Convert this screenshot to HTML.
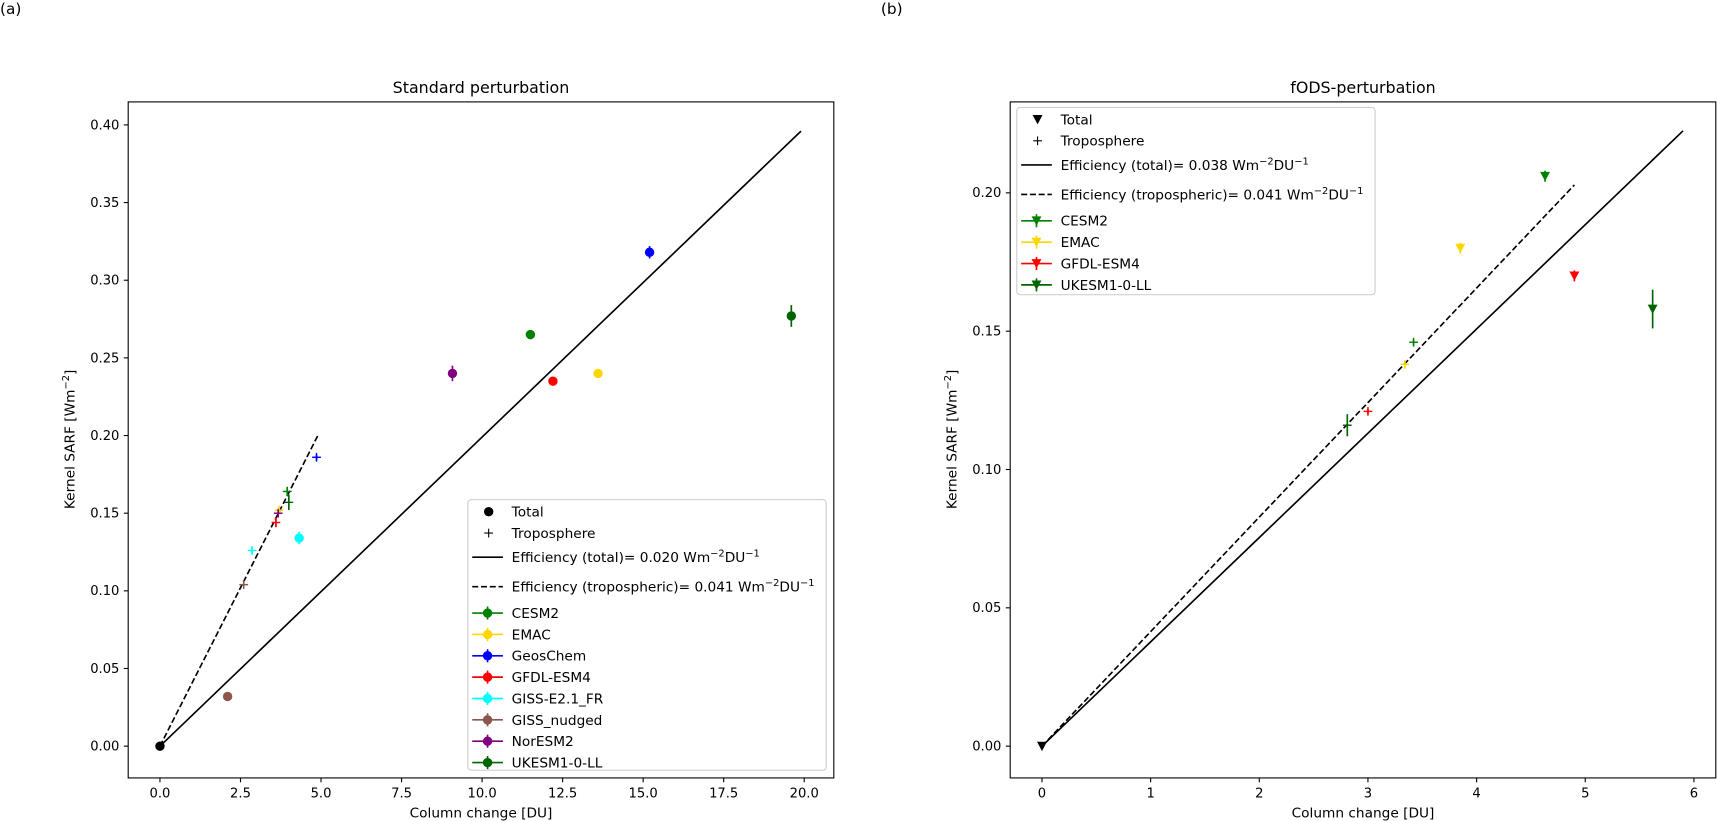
<!DOCTYPE html>
<html><head><meta charset="utf-8"><style>
body{margin:0;background:#fff;}
svg{display:block;font-family:"DejaVu Sans","Liberation Sans",sans-serif;}
</style></head><body>
<svg id="fig" width="1718" height="821" viewBox="0 0 1568 749.3">
<text x="0" y="13" font-size="14">(a)</text>
<text x="804" y="13" font-size="14">(b)</text>
</svg>
<script>
// ---- Panel A data ----
const modelsA = ["CESM2","EMAC","GeosChem","GFDL-ESM4","GISS-E2.1_FR","GISS_nudged","NorESM2","UKESM1-0-LL"];
const colorsA = ["#008000","#ffd700","#0000ff","#ff0000","#00ffff","#8c564b","#800080","#006400"];
const totalXA = [11.5,13.6,15.2,12.2,4.32,2.1,9.08,19.6];
const totalYA = [0.265,0.240,0.318,0.235,0.134,0.032,0.240,0.277];
const totalErrA = [0.003,0.002,0.004,0.002,0.004,0.002,0.005,0.007];
const tropXA = [3.95,3.7,4.86,3.6,2.86,2.6,3.67,4.0];
const tropYA = [0.164,0.152,0.186,0.144,0.126,0.104,0.150,0.157];
const tropErrA = [0.003,0.002,0.002,0.003,0.002,0.001,0.002,0.005];
const effTotalA = 0.0199, effTotalMaxA = 19.9;
const effTropA = 0.0408, effTropMaxA = 4.9;
const xTicksA = [0.0,2.5,5.0,7.5,10.0,12.5,15.0,17.5,20.0];
const yTicksA = [0.00,0.05,0.10,0.15,0.20,0.25,0.30,0.35,0.40];
// ---- Panel B data ----
const modelsB = ["CESM2","EMAC","GFDL-ESM4","UKESM1-0-LL"];
const colorsB = ["#008000","#ffd700","#ff0000","#006400"];
const totalXB = [4.63,3.85,4.9,5.62];
const totalYB = [0.206,0.180,0.170,0.158];
const totalErrB = [0.002,0.002,0.002,0.007];
const tropXB = [3.42,3.34,3.0,2.81];
const tropYB = [0.146,0.138,0.121,0.116];
const tropErrB = [0.001,0.001,0.001,0.004];
const effTotalB = 0.0377, effTotalMaxB = 5.9;
const effTropB = 0.0414, effTropMaxB = 4.9;
const xTicksB = [0,1,2,3,4,5,6];
const yTicksB = [0.00,0.05,0.10,0.15,0.20];

const NS="http://www.w3.org/2000/svg";
const svg=document.getElementById('fig');
function mk(tag,attrs,parent,text){const e=document.createElementNS(NS,tag);for(const k in attrs)e.setAttribute(k,attrs[k]);if(text!==undefined)e.textContent=text;(parent||svg).appendChild(e);return e;}

function panel(cfg){
  const g=mk('g',{});
  
  
  const X=v=>cfg.x0px+(v-0)*cfg.xs, Y=v=>cfg.y0px-v*cfg.ys;
  const fr=mk('rect',{x:cfg.L,y:93,width:644,height:617,fill:'none',stroke:'#000','stroke-width':1},g);
  
  
  cfg.xt.forEach(t=>{
    const px=X(t);
    mk('line',{x1:px,y1:710,x2:px,y2:714,stroke:'#000'},g);
    const tl=mk('text',{x:px,y:728,'font-size':12,'text-anchor':'middle'},g,cfg.xfmt(t));
    
    
  });
  cfg.yt.forEach(t=>{
    const py=Y(t);
    mk('line',{x1:cfg.L-4,y1:py,x2:cfg.L,y2:py,stroke:'#000'},g);
    const tl=mk('text',{x:cfg.L-8,y:py+4,'font-size':12,'text-anchor':'end'},g,t.toFixed(2));
    
    
  });
  const xt=mk('text',{x:cfg.L+322,y:746,'font-size':12.5,'text-anchor':'middle'},g,'Column change [DU]');
  
  
  const yt=mk('text',{transform:`translate(${cfg.L-49},401) rotate(-90)`,'font-size':12.5,'text-anchor':'middle'},g);
  
  
  yt.innerHTML='Kernel SARF  [Wm<tspan dy="-5" font-size="9">−2</tspan><tspan dy="5">]</tspan>';
  const ti=mk('text',{x:cfg.L+322,y:85,'font-size':14.5,'text-anchor':'middle'},g,cfg.title);
  
  
  const l1=mk('line',{x1:X(0),y1:Y(0),x2:X(cfg.effTotMax),y2:Y(cfg.effTot*cfg.effTotMax),stroke:'#000','stroke-width':1.5},g);
  
  
  const l2=mk('line',{x1:X(0),y1:Y(0),x2:X(cfg.effTropMax),y2:Y(cfg.effTrop*cfg.effTropMax),stroke:'#000','stroke-width':1.5,'stroke-dasharray':'5.5,2.5'},g);
  
  
  const o=cfg.marker(g,X(0),Y(0),'#000');
  
  
  cfg.models.forEach((m,i)=>{
    const c=cfg.colors[i];
    const tg=mk('g',{},g);
    
    
    const tx=X(cfg.tx[i]),ty=Y(cfg.ty[i]);
    mk('line',{x1:tx,y1:Y(cfg.ty[i]+cfg.te[i]),x2:tx,y2:Y(cfg.ty[i]-cfg.te[i]),stroke:c,'stroke-width':1.5},tg);
    mk('line',{x1:tx-4,y1:ty,x2:tx+4,y2:ty,stroke:c,'stroke-width':1.3},tg);
    mk('line',{x1:tx,y1:ty-4,x2:tx,y2:ty+4,stroke:c,'stroke-width':1.3},tg);
    const pg=mk('g',{},g);
    
    
    const px=X(cfg.tox[i]),py=Y(cfg.toy[i]);
    mk('line',{x1:px,y1:Y(cfg.toy[i]+cfg.toe[i]),x2:px,y2:Y(cfg.toy[i]-cfg.toe[i]),stroke:c,'stroke-width':1.5},pg);
    cfg.marker(pg,px,py,c);
  });
  const lg=mk('g',{},g);
  
  
  mk('rect',{x:cfg.lx,y:cfg.ly,width:327,height:cfg.lh,rx:3,fill:'#fff','fill-opacity':0.8,stroke:'#ccc'},lg);
  let y=cfg.ly+11;
  const hx=cfg.lx+14, tx0=cfg.lx+40;
  function entry(draw,label,step,html){
    const eg=mk('g',{},lg);
    
    
    draw(eg,y);
    const t=mk('text',{x:tx0,y:y+4.5,'font-size':12.5},eg);
    if(html)t.innerHTML=label;else t.textContent=label;
    y+=step;
  }
  entry((eg,yy)=>cfg.marker(eg,hx+5,yy,'#000'),'Total',19.5);
  entry((eg,yy)=>{mk('line',{x1:hx+1,y1:yy,x2:hx+9,y2:yy,stroke:'#000'},eg);mk('line',{x1:hx+5,y1:yy-4,x2:hx+5,y2:yy+4,stroke:'#000'},eg);},'Troposphere',22);
  entry((eg,yy)=>mk('line',{x1:hx-10,y1:yy,x2:hx+18,y2:yy,stroke:'#000','stroke-width':1.5},eg),
    'Efficiency (total)= '+cfg.effTotLbl+' Wm<tspan dy="-5" font-size="9">−2</tspan><tspan dy="5">DU</tspan><tspan dy="-5" font-size="9">−1</tspan>',27,true);
  entry((eg,yy)=>mk('line',{x1:hx-10,y1:yy,x2:hx+18,y2:yy,stroke:'#000','stroke-width':1.5,'stroke-dasharray':'5.5,2.5'},eg),
    'Efficiency (tropospheric)= '+cfg.effTropLbl+' Wm<tspan dy="-5" font-size="9">−2</tspan><tspan dy="5">DU</tspan><tspan dy="-5" font-size="9">−1</tspan>',24,true);
  cfg.models.forEach((m,i)=>entry((eg,yy)=>{
    const c=cfg.colors[i];
    mk('line',{x1:hx-10,y1:yy,x2:hx+18,y2:yy,stroke:c,'stroke-width':1.5},eg);
    mk('line',{x1:hx+4,y1:yy-6,x2:hx+4,y2:yy+6,stroke:c,'stroke-width':1.5},eg);
    cfg.marker(eg,hx+4,yy,c);
  },m,19.5));
}
const circ=(p,x,y,c)=>mk('circle',{cx:x,cy:y,r:4.3,fill:c},p);
const tri=(p,x,y,c)=>mk('polygon',{points:`${x-4.5},${y-4} ${x+4.5},${y-4} ${x},${y+4.5}`,fill:c},p);

panel({name:'panel-a-standard-perturbation',L:117,x0px:146,xs:29.4,y0px:681,ys:1417.5,xt:xTicksA,yt:yTicksA,xfmt:t=>t.toFixed(1),
  title:'Standard perturbation',models:modelsA,colors:colorsA,tx:tropXA,ty:tropYA,te:tropErrA,tox:totalXA,toy:totalYA,toe:totalErrA,
  effTot:effTotalA,effTotMax:effTotalMaxA,effTrop:effTropA,effTropMax:effTropMaxA,effTotLbl:'0.020',effTropLbl:'0.041',
  marker:circ,lx:427,ly:456,lh:247});
panel({name:'panel-b-fods-perturbation',L:922,x0px:951,xs:99.17,y0px:681,ys:2525,xt:xTicksB,yt:yTicksB,xfmt:t=>String(t),
  title:'fODS-perturbation',models:modelsB,colors:colorsB,tx:tropXB,ty:tropYB,te:tropErrB,tox:totalXB,toy:totalYB,toe:totalErrB,
  effTot:effTotalB,effTotMax:effTotalMaxB,effTrop:effTropB,effTropMax:effTropMaxB,effTotLbl:'0.038',effTropLbl:'0.041',
  marker:tri,lx:928,ly:98,lh:171});
</script>
</body></html>
